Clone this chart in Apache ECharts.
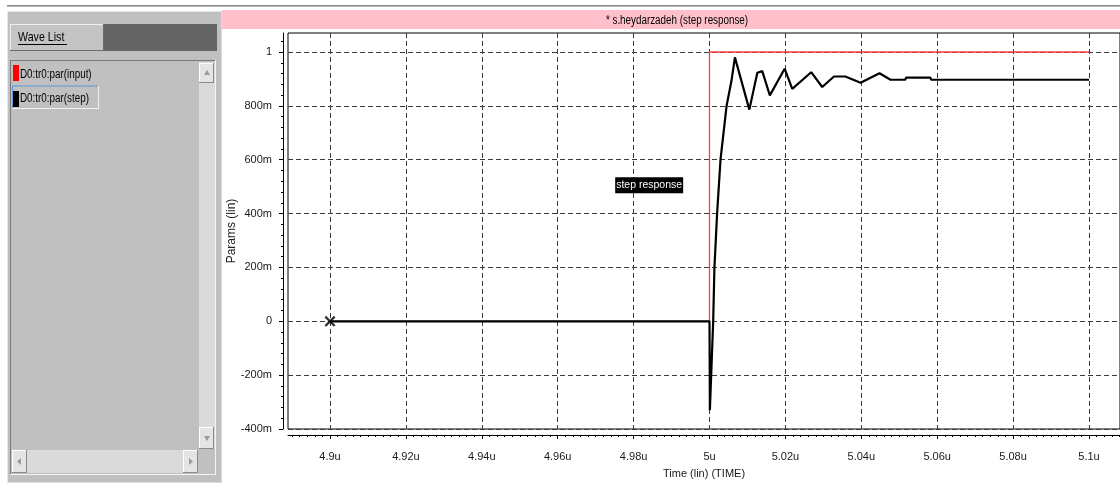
<!DOCTYPE html>
<html>
<head>
<meta charset="utf-8">
<script src="https://cdn.jsdelivr.net/npm/echarts@6/dist/echarts.min.js"></script>
<style>
html,body{margin:0;padding:0;background:#fff;}
#chart{width:1120px;height:487px;}
</style>
</head>
<body>
<div id="chart"></div>
<script>
// ---------------- data ----------------
const titleText = '* s.heydarzadeh (step response)';
const xAxisName = 'Time (lin) (TIME)';
const yAxisName = 'Params (lin)';
const waveNames = ['D0:tr0:par(input)', 'D0:tr0:par(step)'];

const xTickValues = [4.9, 4.92, 4.94, 4.96, 4.98, 5.0, 5.02, 5.04, 5.06, 5.08, 5.1];
const xTickLabels = ['4.9u', '4.92u', '4.94u', '4.96u', '4.98u', '5u', '5.02u', '5.04u', '5.06u', '5.08u', '5.1u'];
const yTickValues = [-0.4, -0.2, 0, 0.2, 0.4, 0.6, 0.8, 1.0];
const yTickLabels = ['-400m', '-200m', '0', '200m', '400m', '600m', '800m', '1'];

const xMin = 4.88893, xMax = 5.10817;
const yMin = -0.4, yMax = 1.0706;

// input (step command)
const inputT = [4.9, 5.0, 5.0, 5.1];
const inputV = [0, 0, 1, 1];

// step response
const stepT = [4.9, 5.0, 5.0001, 5.00097, 5.0013, 5.0020, 5.0029, 5.0045, 5.0058, 5.0067, 5.0105, 5.0126, 5.0139, 5.0159,
               5.0198, 5.0218, 5.0268, 5.0297, 5.0328, 5.0358, 5.0398, 5.0448, 5.0477, 5.0516, 5.0518,
               5.0582, 5.0584, 5.1];
const stepV = [0, 0, -0.33, 0, 0.2, 0.4, 0.6, 0.8, 0.894, 0.98, 0.786, 0.923, 0.929, 0.839,
               0.938, 0.863, 0.925, 0.870, 0.909, 0.909, 0.886, 0.921, 0.897, 0.897, 0.905,
               0.905, 0.897, 0.897];

const markerPoint = [4.9, 0];
const labelText = 'step response';
const labelCoord = [4.9841, 0.505];

// ---------------- helpers ----------------
const FONT = '"Liberation Sans", Arial, sans-serif';
const SX = 0.82; // horizontal squeeze for the narrow UI font

function rangeVals(a, b, step, dec) {
  const out = [];
  const n = Math.round((b - a) / step);
  for (let i = 0; i <= n; i++) out.push(Math.round((a + i * step) * dec) / dec);
  return out;
}
const xMinorTicks = rangeVals(4.890, 5.108, 0.002, 1000);
const yMinorTicks = rangeVals(-0.4, 1.04, 0.04, 1000);

function fmt(values, labels) {
  return function (val) {
    const i = values.findIndex(v => Math.abs(v - val) < 1e-7);
    return i >= 0 ? labels[i] : '';
  };
}

function txt(x, y, text, size, align, fill) {
  return {type: 'text', x: x, y: y, z: 10, scaleX: SX,
    style: {text: text, font: size + 'px ' + FONT, fill: fill || '#000', textAlign: align || 'left', align: align || 'left',
            textVerticalAlign: 'middle', verticalAlign: 'middle'}};
}
function rect(x, y, w, h, fill, stroke, lw) {
  const s = {fill: fill || 'none'};
  if (stroke) { s.stroke = stroke; s.lineWidth = lw || 1; }
  return {type: 'rect', z: 5, shape: {x: x, y: y, width: w, height: h}, style: s};
}
function hline(x1, x2, y, color) { return {type: 'line', z: 6, shape: {x1: x1, y1: y, x2: x2, y2: y}, style: {stroke: color, lineWidth: 1}}; }
function vline(x, y1, y2, color) { return {type: 'line', z: 6, shape: {x1: x, y1: y1, x2: x, y2: y2}, style: {stroke: color, lineWidth: 1}}; }
function bevel(x, y, w, h, fill, light, dark) {
  return [rect(x, y, w, h, fill),
    hline(x, x + w, y + 0.5, light), vline(x + 0.5, y, y + h, light),
    hline(x, x + w, y + h - 0.5, dark), vline(x + w - 0.5, y, y + h, dark)];
}
function tri(points, color) { return {type: 'polygon', z: 7, shape: {points: points}, style: {fill: color}}; }

// ---------------- chrome (wave list panel, title bar) ----------------
const chrome = [].concat(
  [rect(7, 5, 1113, 1, '#8c8c8c'), rect(7, 6, 1113, 1, '#b8b8b8')],
  [rect(222, 10, 898, 19, '#ffc0cb')],
  [txt(677, 20.5, titleText, 12, 'center')],
  // panel
  bevel(7, 11, 215, 472, '#c0c0c0', '#e6e6e6', '#dcdcdc'),
  // Wave List button
  bevel(10, 24, 94, 27, '#c4c4c4', '#f0f0f0', '#6c6c6c'),
  [txt(18, 37.5, 'Wave List', 13), rect(18, 44, 49, 1, '#000')],
  [rect(104, 24, 113, 27, '#646464')],
  // list box
  bevel(10, 60, 206, 415, '#c0c0c0', '#7a7a7a', '#f4f4f4'),
  [rect(13, 65, 6, 16, '#ff0000'), txt(20, 75, waveNames[0], 12)],
  [hline(12, 98, 86, '#5d96d6'), vline(12.5, 86, 108, '#5d96d6'), hline(12, 98, 108.5, '#f0f0f0'), vline(98.5, 86, 109, '#f0f0f0')],
  [rect(13, 91, 6, 16, '#000000'), txt(20, 99, waveNames[1], 12)],
  // vertical scrollbar
  [rect(199, 62, 16, 387, '#dadada')],
  bevel(199, 63, 15, 20, '#e4e4e4', '#ffffff', '#8a8a8a'),
  [tri([[204, 75], [210, 75], [207, 70]], '#9a9a9a')],
  bevel(199, 427, 15, 22, '#e4e4e4', '#ffffff', '#8a8a8a'),
  [tri([[204, 436], [210, 436], [207, 441]], '#9a9a9a')],
  // horizontal scrollbar
  [rect(12, 450, 186, 23, '#dadada')],
  bevel(12, 450, 15, 23, '#e4e4e4', '#ffffff', '#8a8a8a'),
  [tri([[21, 458], [21, 465], [17, 461.5]], '#9a9a9a')],
  bevel(183, 450, 15, 23, '#e4e4e4', '#ffffff', '#8a8a8a'),
  [tri([[189, 458], [189, 465], [193, 461.5]], '#9a9a9a')],
  [rect(198, 449, 17, 25, '#c0c0c0')]
);

// ---------------- chart ----------------
const chart = echarts.init(document.getElementById('chart'), null, {renderer: 'canvas'});
const gridLine = {show: true, lineStyle: {color: '#3a3a3a', width: 1, type: [5, 3]}};
const option = {
  animation: false,
  backgroundColor: '#ffffff',
  grid: {left: 288, top: 33, width: 832, height: 396, show: true, borderColor: '#000', borderWidth: 1, backgroundColor: 'transparent'},
  xAxis: [
    {type: 'value', min: xMin, max: xMax, position: 'bottom',
     axisLine: {show: false, onZero: false}, axisTick: {show: false, customValues: xTickValues},
     axisLabel: {show: false}, splitLine: gridLine},
    {type: 'value', min: xMin, max: xMax, position: 'bottom', offset: 6,
     axisLine: {show: true, onZero: false, lineStyle: {color: '#000', width: 1}},
     axisTick: {show: true, customValues: xTickValues, length: 4, lineStyle: {color: '#000'}},
     axisLabel: {show: true, customValues: xTickValues, formatter: fmt(xTickValues, xTickLabels), margin: 16,
                 fontFamily: FONT, fontSize: 11, color: '#1a1a1a'},
     splitLine: {show: false},
     name: xAxisName, nameLocation: 'middle', nameGap: 33, nameMoveOverlap: false,
     nameTextStyle: {fontFamily: FONT, fontSize: 11, color: '#1a1a1a'}},
    {type: 'value', min: xMin, max: xMax, position: 'bottom', offset: 6,
     axisLine: {show: false, onZero: false},
     axisTick: {show: true, customValues: xMinorTicks, length: 2, lineStyle: {color: '#000'}},
     axisLabel: {show: false}, splitLine: {show: false}}
  ],
  yAxis: [
    {type: 'value', min: yMin, max: yMax, position: 'left',
     axisLine: {show: false, onZero: false}, axisTick: {show: false, customValues: yTickValues},
     axisLabel: {show: false}, splitLine: gridLine},
    {type: 'value', min: yMin, max: yMax, position: 'left', offset: 5,
     axisLine: {show: true, onZero: false, lineStyle: {color: '#000', width: 1}},
     axisTick: {show: true, customValues: yTickValues, length: 4, lineStyle: {color: '#000'}},
     axisLabel: {show: true, customValues: yTickValues, formatter: fmt(yTickValues, yTickLabels), margin: 11,
                 fontFamily: FONT, fontSize: 11, color: '#1a1a1a'},
     splitLine: {show: false},
     name: yAxisName, nameLocation: 'middle', nameGap: 45, nameMoveOverlap: false,
     nameTextStyle: {fontFamily: FONT, fontSize: 12, color: '#222'}},
    {type: 'value', min: yMin, max: yMax, position: 'left', offset: 5,
     axisLine: {show: false, onZero: false},
     axisTick: {show: true, customValues: yMinorTicks, length: 2, lineStyle: {color: '#000'}},
     axisLabel: {show: false}, splitLine: {show: false}}
  ],
  series: [
    {name: waveNames[0], type: 'line', xAxisIndex: 0, yAxisIndex: 0, z: 2,
     data: inputT.map((t, i) => [t, inputV[i]]), symbol: 'none',
     lineStyle: {color: '#ff4040', width: 1.3}},
    {name: waveNames[1], type: 'line', xAxisIndex: 0, yAxisIndex: 0, z: 3,
     data: stepT.map((t, i) => [t, stepV[i]]), symbol: 'none',
     lineStyle: {color: '#000', width: 2.2},
     markPoint: {symbol: 'rect', symbolSize: 1, itemStyle: {color: 'transparent'},
       data: [{coord: labelCoord, value: labelText}],
       label: {show: true, position: 'inside', formatter: labelText, color: '#fff', backgroundColor: '#000',
               padding: [3, 1, 2, 1], fontFamily: FONT, fontSize: 10.5}}},
    {type: 'scatter', xAxisIndex: 0, yAxisIndex: 0, z: 4,
     data: [markerPoint],
     symbol: 'path://M0,1.5L1.5,0L5,3.5L8.5,0L10,1.5L6.5,5L10,8.5L8.5,10L5,6.5L1.5,10L0,8.5L3.5,5Z', symbolSize: 11,
     itemStyle: {color: '#000'}}
  ],
  graphic: {elements: chrome}
};
chart.setOption(option);
</script>
</body>
</html>
